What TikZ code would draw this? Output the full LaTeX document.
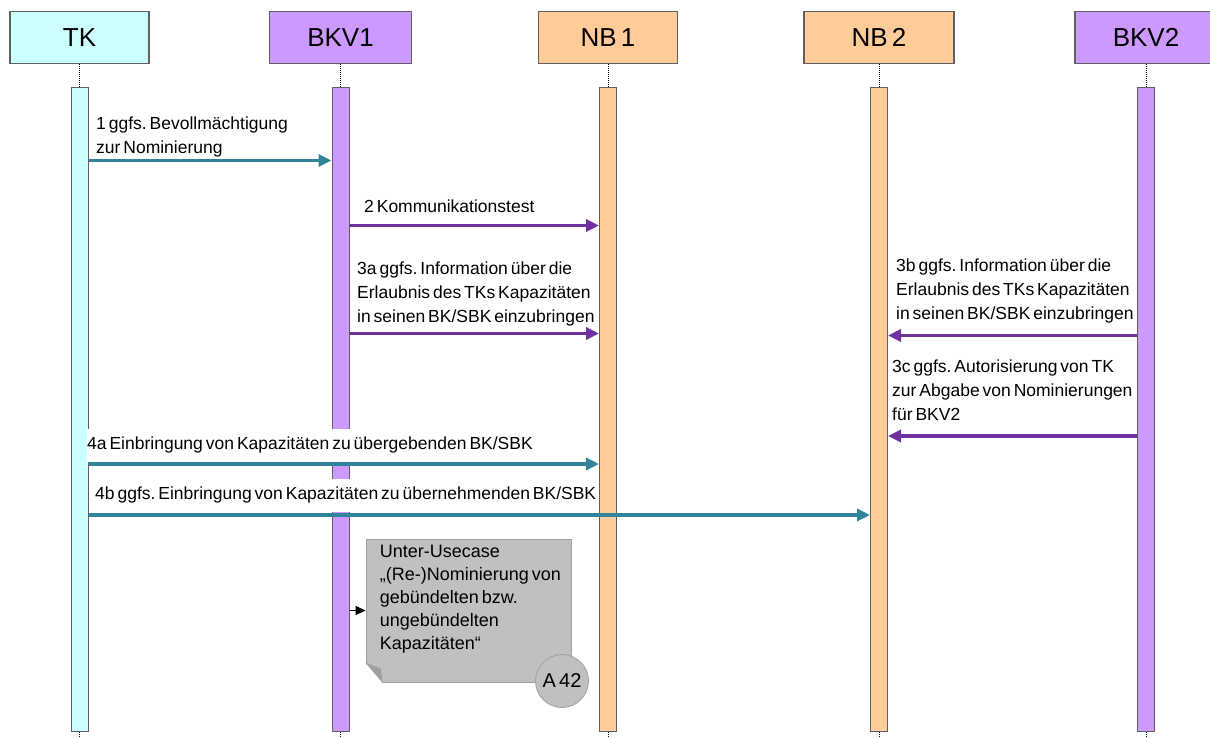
\documentclass[tikz,border=0pt]{standalone}
\usepackage{fontspec}
\setmainfont{Liberation Sans}[WordSpace=0.6]
\frenchspacing
\usetikzlibrary{positioning, calc, arrows.meta}
\definecolor{colorTK}{RGB}{204, 255, 255}
\definecolor{colorBKV}{RGB}{204, 153, 255}
\definecolor{colorNB}{RGB}{255, 204, 153}
\definecolor{colorTeal}{RGB}{49, 133, 155}
\definecolor{colorPurple}{RGB}{112, 48, 160}
\definecolor{colorNote}{RGB}{192, 192, 192}
\definecolor{colorFold}{RGB}{160, 160, 160}
\definecolor{colorEdge}{RGB}{96, 96, 96}
\tikzstyle{headbox} = [rectangle, minimum width=139pt, minimum height=52pt, draw=colorEdge, line width=1.2pt, font=\fontsize{26}{30}\selectfont]
\tikzstyle{actbar} = [rectangle, minimum width=17pt, minimum height=644pt, draw=colorEdge, line width=1pt]
\tikzstyle{lifeline} = [densely dotted, line width=1pt]
\tikzstyle{msg} = [anchor=north west, align=left, inner sep=0pt, fill=white, font=\fontsize{17.5}{24}\selectfont]
\tikzstyle{arrowTeal} = [line width=3.5pt, -{Triangle[length=13pt, width=12pt]}, color=colorTeal]
\tikzstyle{arrowPurple} = [line width=3.5pt, -{Triangle[length=13pt, width=12pt]}, color=colorPurple]
\tikzstyle{arrowSmall} = [line width=1pt, -{Triangle[length=10pt, width=9pt]}, color=black]
\tikzstyle{notebox} = [rectangle, minimum width=205pt, minimum height=143pt, fill=colorNote, draw=colorFold, line width=0.8pt]

\begin{document}
\begin{tikzpicture}[x=1pt, y=-1pt]
	\useasboundingbox (0,0) rectangle (1210,738);

	% heads
	\node (headTK)[headbox, fill=colorTK] at (79.5,37.5) {TK};
	\node (headBKV1)[headbox, fill=colorBKV, minimum width=142pt] at (340.5,37.5) {BKV1};
	\node (headNB1)[headbox, fill=colorNB] at (608,37.5) {NB 1};
	\node (headNB2)[headbox, fill=colorNB, minimum width=150pt] at (879,37.5) {NB 2};
	\node (headBKV2)[headbox, fill=colorBKV, minimum width=142pt] at (1146,37.5) {BKV2};

	% activation bars
	\node (barTK)[actbar, fill=colorTK, below=23pt of headTK] {};
	\node (barBKV1)[actbar, fill=colorBKV, below=23pt of headBKV1] {};

	% message texts
	\node (lMsg1)[msg] at (96,117) {1 ggfs. Bevollmächtigung\\zur Nominierung};
	\node (lMsg2)[msg] at (364,200) {2 Kommunikationstest};
	\node (lMsg3a)[msg] at (357,262) {3a ggfs. Information über die\\Erlaubnis des TKs Kapazitäten\\in seinen BK/SBK einzubringen};
	\node (lMsg3b)[msg] at (896,259) {3b ggfs. Information über die\\Erlaubnis des TKs Kapazitäten\\in seinen BK/SBK einzubringen};
	\node (lMsg3c)[msg] at (892,360) {3c ggfs. Autorisierung von TK\\zur Abgabe von Nominierungen\\für BKV2};
	\node (lMsg4a)[msg, inner ysep=8pt] at (87,429) {4a Einbringung von Kapazitäten zu übergebenden BK/SBK};
	\node (lMsg4b)[msg, inner ysep=8pt] at (95,479) {4b ggfs. Einbringung von Kapazitäten zu übernehmenden BK/SBK};

	\node (barNB1)[actbar, fill=colorNB, below=23pt of headNB1] {};
	\node (barNB2)[actbar, fill=colorNB, below=23pt of headNB2] {};
	\node (barBKV2)[actbar, fill=colorBKV, below=23pt of headBKV2] {};

	% lifelines
	\foreach \p in {TK, BKV1, NB1, NB2, BKV2} {
		\draw[lifeline] (head\p) -- (bar\p);
		\draw[lifeline] (bar\p.south) -- ++(0,10);
	}

	% lines and arrows
	\coordinate (m1) at (0,160.5);
	\coordinate (m2) at (0,225.5);
	\coordinate (m3a) at (0,333.5);
	\coordinate (m3b) at (0,335.5);
	\coordinate (m3c) at (0,436);
	\coordinate (m4a) at (0,464);
	\coordinate (m4b) at (0,515);

	\draw[arrowTeal] (barTK.east |- m1) -- (barBKV1.west |- m1);
	\draw[arrowPurple] (barBKV1.east |- m2) -- (barNB1.west |- m2);
	\draw[arrowPurple] (barBKV1.east |- m3a) -- (barNB1.west |- m3a);
	\draw[arrowPurple] (barBKV2.west |- m3b) -- (barNB2.east |- m3b);
	\draw[arrowPurple] (barBKV2.west |- m3c) -- (barNB2.east |- m3c);
	\draw[arrowTeal] (barTK.east |- m4a) -- (barNB1.west |- m4a);
	\draw[arrowTeal] (barTK.east |- m4b) -- (barNB2.west |- m4b);

	% sub use case
	\node (noteUC)[notebox] at (468.5,610.5) {};
	\fill[white] ($(noteUC.south west)+(-1,-20)$) -- ($(noteUC.south west)+(-1,1)$) -- ($(noteUC.south west)+(17,1)$) -- cycle;
	\fill[colorFold] ($(noteUC.south west)+(0,-20)$) -- ($(noteUC.south west)+(15,-14)$) -- ($(noteUC.south west)+(17,0)$) -- cycle;
	\node (txtUC)[anchor=north west, align=left, inner sep=0pt, font=\fontsize{18}{23}\selectfont] at ($(noteUC.north west)+(14,6)$) {Unter-Usecase\\„(Re-)Nominierung von\\gebündelten bzw.\\ungebündelten\\Kapazitäten“};
	\node (circA42)[circle, minimum size=53pt, inner sep=0pt, fill=colorNote, draw=colorFold, line width=0.8pt, font=\fontsize{20}{20}\selectfont] at (562,681) {A 42};

	\draw[arrowSmall] (barBKV1.east |- noteUC.west) -- (noteUC.west);

\end{tikzpicture}
\end{document}
